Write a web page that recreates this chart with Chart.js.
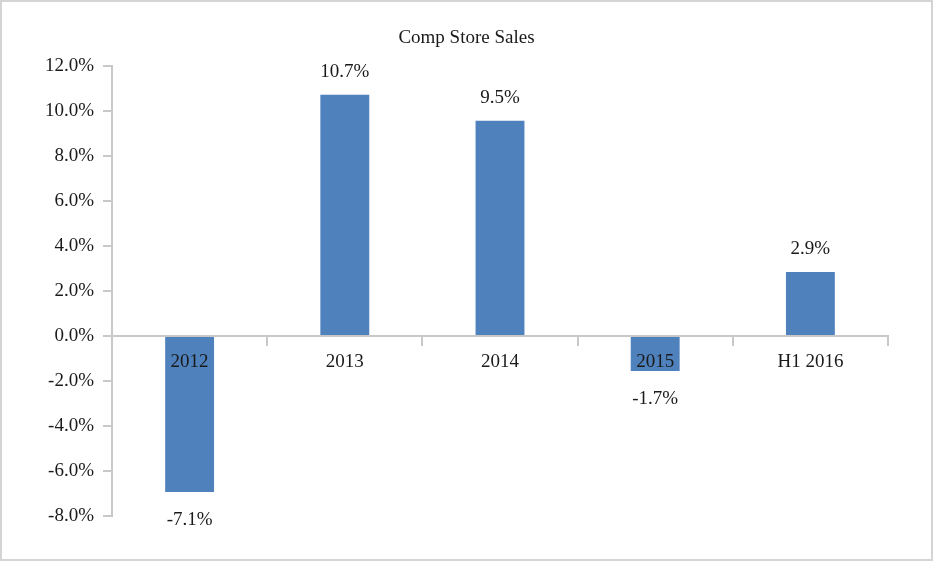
<!DOCTYPE html>
<html>
<head>
<meta charset="utf-8">
<script src="https://cdn.jsdelivr.net/npm/chart.js"></script>
<style>
  html, body { margin: 0; padding: 0; background: #fff; }
  #wrap {
    width: 933px; height: 561px; box-sizing: border-box;
    border: 2px solid #d4d4d4; background: #fff;
  }
  #chart { display: block; }
</style>
</head>
<body>
<div id="wrap"><canvas id="chart" width="929" height="557"></canvas></div>
<script>
// data
const categories = ["2012", "2013", "2014", "2015", "H1 2016"];
const barValues = [-6.93, 10.71, 9.56, -1.56, 2.84]; // bar ends as drawn
const valueLabels = ["-7.1%", "10.7%", "9.5%", "-1.7%", "2.9%"]; // printed labels
const yMin = -8, yMax = 12, yStep = 2;

const FONT = "'Liberation Serif', 'Times New Roman', serif";

// draws the value labels above / below each bar
const barLabels = {
  id: "barLabels",
  afterDatasetsDraw(chart) {
    const ctx = chart.ctx;
    const meta = chart.getDatasetMeta(0);
    ctx.save();
    ctx.font = "19px " + FONT;
    ctx.fillStyle = "#1a1a1a";
    ctx.textAlign = "center";
    ctx.textBaseline = "middle";
    meta.data.forEach((bar, i) => {
      const neg = barValues[i] < 0;
      const y = neg ? bar.y + 28 : bar.y - 23;
      ctx.fillText(valueLabels[i], bar.x, y);
    });
    ctx.restore();
  }
};

new Chart(document.getElementById("chart"), {
  type: "bar",
  data: {
    labels: categories,
    datasets: [{
      data: barValues,
      backgroundColor: "#4f81bd",
      borderWidth: 0,
      barPercentage: 0.315,
      categoryPercentage: 1
    }]
  },
  options: {
    responsive: false,
    animation: false,
    // left padding mirrors the right one so the title sits centred on the canvas
    layout: { padding: { top: 0, right: 43, bottom: 43, left: 43 } },
    plugins: {
      legend: { display: false },
      tooltip: { enabled: false },
      title: {
        display: true,
        text: "Comp Store Sales",
        color: "#1a1a1a",
        font: { family: FONT, size: 19, weight: "normal" },
        padding: { top: 25, bottom: 16 }
      }
    },
    scales: {
      x: {
        position: { y: 0 },
        offset: true,
        grid: {
          offset: true,
          drawOnChartArea: false,
          drawTicks: true,
          tickLength: 9,
          color: "#c8c8c8",
          lineWidth: 2
        },
        border: { display: true, color: "#c8c8c8", width: 2, z: 1 },
        ticks: {
          z: 1, // category names are printed over the bars
          color: "#1a1a1a",
          padding: 6,
          maxRotation: 0,
          font: { family: FONT, size: 19 }
        }
      },
      y: {
        min: yMin,
        max: yMax,
        afterFit(scale) { scale.width = 110 - 43; },
        grid: {
          drawOnChartArea: false,
          drawTicks: true,
          tickLength: 9,
          color: "#c8c8c8",
          lineWidth: 2
        },
        border: { display: true, color: "#c8c8c8", width: 2 },
        ticks: {
          stepSize: yStep,
          color: "#1a1a1a",
          padding: 9,
          font: { family: FONT, size: 19 },
          callback: (v) => v.toFixed(1) + "%"
        }
      }
    }
  },
  plugins: [barLabels]
});
</script>
</body>
</html>
